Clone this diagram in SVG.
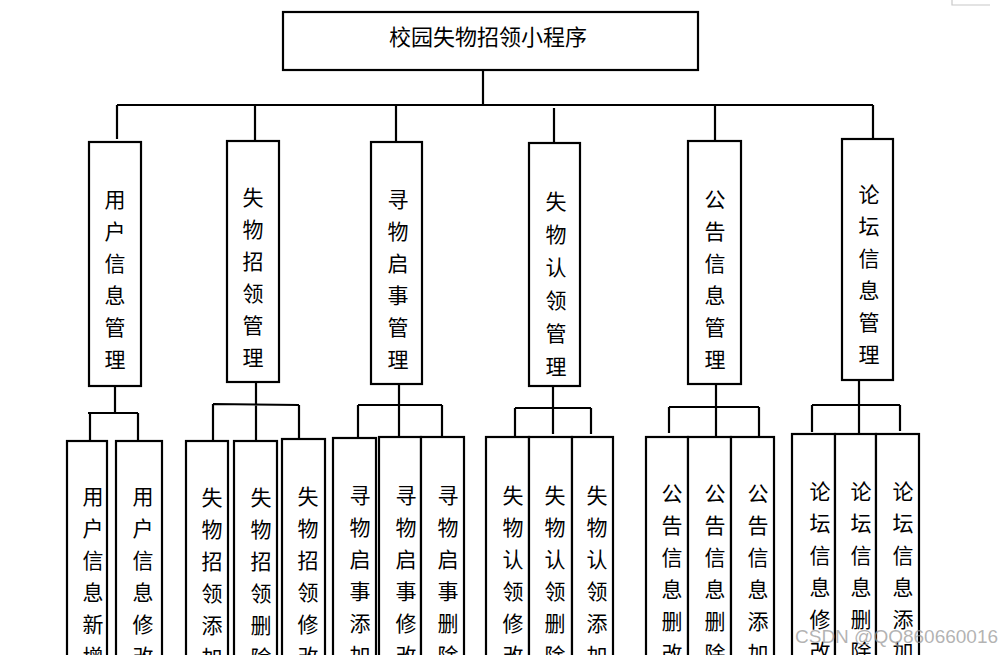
<svg xmlns="http://www.w3.org/2000/svg" width="1004" height="655" viewBox="0 0 1004 655">
<style>
.box{fill:#fff;stroke:#000;stroke-width:2.2}
.ln{fill:none;stroke:#000;stroke-width:2.2}
.t{font-family:"Noto Sans CJK SC","Noto Sans CJK JP",sans-serif;font-size:21px;fill:#000;text-anchor:middle;dominant-baseline:central;transform:translate(0px,-2px)}
.title{font-size:22px}
.wm{font-family:"Liberation Sans",Arial,sans-serif;font-size:19px;fill:#9a9a9a;fill-opacity:0.75}
</style>
<rect width="1004" height="655" fill="#fff"/>
<path d="M952,0 V5 H990" fill="none" stroke="#c8c8c8" stroke-width="1.2"/>

<g id="connectors">
<path class="ln" d="M483,70 V106"/>
<path class="ln" d="M117,105 H873"/>
<path class="ln" d="M117,105 V139 M255,105 V141 M396,105 V142 M554,108 V143 M715,105 V141 M873,105 V139"/>
<path class="ln" d="M115,386 V413 M88,413 H138 M90,413 V441 M138,413 V441"/>
<path class="ln" d="M256,382 V441 M213,404 L299,405 M213,404 V441 M299,405 V439"/>
<path class="ln" d="M399,384 V437 M358,405 H442 M358,405 V438 M442,405 V437"/>
<path class="ln" d="M553,386 V434 M515,408 H591 M515,408 V437 M591,408 V434"/>
<path class="ln" d="M716,384 V437 M669,407 H759 M669,407 V433 M759,407 V437"/>
<path class="ln" d="M859,380 V434 M812,405 H900 M812,405 V432 M900,405 V431"/>
</g>

<g id="root">
<rect class="box" x="283" y="12" width="415" height="58"/>
<text class="t title" x="488" y="37">校园失物招领小程序</text>
</g>

<g id="n-user">
<rect class="box" x="89" y="142" width="52" height="244"/>
<text class="t"><tspan x="115" y="200">用</tspan><tspan x="115" y="232">户</tspan><tspan x="115" y="264">信</tspan><tspan x="115" y="296">息</tspan><tspan x="115" y="328">管</tspan><tspan x="115" y="360">理</tspan></text>
</g>
<g id="n-lost">
<rect class="box" x="227" y="141" width="52" height="241"/>
<text class="t"><tspan x="253" y="198">失</tspan><tspan x="253" y="230">物</tspan><tspan x="253" y="262">招</tspan><tspan x="253" y="294">领</tspan><tspan x="253" y="326">管</tspan><tspan x="253" y="358">理</tspan></text>
</g>
<g id="n-seek">
<rect class="box" x="371" y="142" width="51" height="242"/>
<text class="t"><tspan x="398" y="200">寻</tspan><tspan x="398" y="232">物</tspan><tspan x="398" y="264">启</tspan><tspan x="398" y="296">事</tspan><tspan x="398" y="328">管</tspan><tspan x="398" y="360">理</tspan></text>
</g>
<g id="n-claim">
<rect class="box" x="529" y="143" width="51" height="243"/>
<text class="t"><tspan x="556" y="202">失</tspan><tspan x="556" y="235">物</tspan><tspan x="556" y="268">认</tspan><tspan x="556" y="301">领</tspan><tspan x="556" y="334">管</tspan><tspan x="556" y="367">理</tspan></text>
</g>
<g id="n-notice">
<rect class="box" x="688" y="141" width="53" height="243"/>
<text class="t"><tspan x="715" y="200">公</tspan><tspan x="715" y="232">告</tspan><tspan x="715" y="264">信</tspan><tspan x="715" y="296">息</tspan><tspan x="715" y="328">管</tspan><tspan x="715" y="360">理</tspan></text>
</g>
<g id="n-forum">
<rect class="box" x="842" y="139" width="51" height="241"/>
<text class="t"><tspan x="869" y="195">论</tspan><tspan x="869" y="227">坛</tspan><tspan x="869" y="259">信</tspan><tspan x="869" y="291">息</tspan><tspan x="869" y="323">管</tspan><tspan x="869" y="355">理</tspan></text>
</g>

<g id="l-user-add">
<rect class="box" x="67" y="441" width="40" height="230"/>
<text class="t"><tspan x="93" y="497">用</tspan><tspan x="93" y="529">户</tspan><tspan x="93" y="561">信</tspan><tspan x="93" y="593">息</tspan><tspan x="93" y="625">新</tspan><tspan x="93" y="657">增</tspan></text>
</g>
<g id="l-user-edit">
<rect class="box" x="116" y="441" width="46" height="230"/>
<text class="t"><tspan x="143" y="497">用</tspan><tspan x="143" y="529">户</tspan><tspan x="143" y="561">信</tspan><tspan x="143" y="593">息</tspan><tspan x="143" y="625">修</tspan><tspan x="143" y="657">改</tspan></text>
</g>
<g id="l-lost-add">
<rect class="box" x="186" y="441" width="42" height="230"/>
<text class="t"><tspan x="212" y="498">失</tspan><tspan x="212" y="530">物</tspan><tspan x="212" y="562">招</tspan><tspan x="212" y="594">领</tspan><tspan x="212" y="626">添</tspan><tspan x="212" y="658">加</tspan></text>
</g>
<g id="l-lost-del">
<rect class="box" x="234" y="441" width="43" height="230"/>
<text class="t"><tspan x="261" y="498">失</tspan><tspan x="261" y="530">物</tspan><tspan x="261" y="562">招</tspan><tspan x="261" y="594">领</tspan><tspan x="261" y="626">删</tspan><tspan x="261" y="658">除</tspan></text>
</g>
<g id="l-lost-edit">
<rect class="box" x="282" y="439" width="43" height="232"/>
<text class="t"><tspan x="308" y="497">失</tspan><tspan x="308" y="529">物</tspan><tspan x="308" y="561">招</tspan><tspan x="308" y="593">领</tspan><tspan x="308" y="625">修</tspan><tspan x="308" y="657">改</tspan></text>
</g>
<g id="l-seek-add">
<rect class="box" x="333" y="438" width="43" height="233"/>
<text class="t"><tspan x="360" y="496">寻</tspan><tspan x="360" y="528">物</tspan><tspan x="360" y="560">启</tspan><tspan x="360" y="592">事</tspan><tspan x="360" y="624">添</tspan><tspan x="360" y="656">加</tspan></text>
</g>
<g id="l-seek-edit">
<rect class="box" x="379" y="437" width="42" height="234"/>
<text class="t"><tspan x="406" y="496">寻</tspan><tspan x="406" y="528">物</tspan><tspan x="406" y="560">启</tspan><tspan x="406" y="592">事</tspan><tspan x="406" y="624">修</tspan><tspan x="406" y="656">改</tspan></text>
</g>
<g id="l-seek-del">
<rect class="box" x="421" y="437" width="43" height="234"/>
<text class="t"><tspan x="448" y="496">寻</tspan><tspan x="448" y="528">物</tspan><tspan x="448" y="560">启</tspan><tspan x="448" y="592">事</tspan><tspan x="448" y="624">删</tspan><tspan x="448" y="656">除</tspan></text>
</g>
<g id="l-claim-edit">
<rect class="box" x="486" y="437" width="43" height="234"/>
<text class="t"><tspan x="513" y="496">失</tspan><tspan x="513" y="528">物</tspan><tspan x="513" y="560">认</tspan><tspan x="513" y="592">领</tspan><tspan x="513" y="624">修</tspan><tspan x="513" y="656">改</tspan></text>
</g>
<g id="l-claim-del">
<rect class="box" x="529" y="437" width="43" height="234"/>
<text class="t"><tspan x="555" y="496">失</tspan><tspan x="555" y="528">物</tspan><tspan x="555" y="560">认</tspan><tspan x="555" y="592">领</tspan><tspan x="555" y="624">删</tspan><tspan x="555" y="656">除</tspan></text>
</g>
<g id="l-claim-add">
<rect class="box" x="572" y="437" width="41" height="234"/>
<text class="t"><tspan x="597" y="496">失</tspan><tspan x="597" y="528">物</tspan><tspan x="597" y="560">认</tspan><tspan x="597" y="592">领</tspan><tspan x="597" y="624">添</tspan><tspan x="597" y="656">加</tspan></text>
</g>
<g id="l-notice-editdel">
<rect class="box" x="646" y="437" width="42" height="234"/>
<text class="t"><tspan x="672" y="494">公</tspan><tspan x="672" y="526">告</tspan><tspan x="672" y="558">信</tspan><tspan x="672" y="590">息</tspan><tspan x="672" y="622">删</tspan><tspan x="672" y="654">改</tspan></text>
</g>
<g id="l-notice-del">
<rect class="box" x="688" y="437" width="43" height="234"/>
<text class="t"><tspan x="715" y="494">公</tspan><tspan x="715" y="526">告</tspan><tspan x="715" y="558">信</tspan><tspan x="715" y="590">息</tspan><tspan x="715" y="622">删</tspan><tspan x="715" y="654">除</tspan></text>
</g>
<g id="l-notice-add">
<rect class="box" x="731" y="437" width="43" height="234"/>
<text class="t"><tspan x="758" y="494">公</tspan><tspan x="758" y="526">告</tspan><tspan x="758" y="558">信</tspan><tspan x="758" y="590">息</tspan><tspan x="758" y="622">添</tspan><tspan x="758" y="654">加</tspan></text>
</g>
<g id="l-forum-edit">
<rect class="box" x="792" y="434" width="43" height="237"/>
<text class="t"><tspan x="820" y="492">论</tspan><tspan x="820" y="524">坛</tspan><tspan x="820" y="556">信</tspan><tspan x="820" y="588">息</tspan><tspan x="820" y="620">修</tspan><tspan x="820" y="652">改</tspan></text>
</g>
<g id="l-forum-del">
<rect class="box" x="835" y="434" width="41" height="237"/>
<text class="t"><tspan x="861" y="492">论</tspan><tspan x="861" y="524">坛</tspan><tspan x="861" y="556">信</tspan><tspan x="861" y="588">息</tspan><tspan x="861" y="620">删</tspan><tspan x="861" y="652">除</tspan></text>
</g>
<g id="l-forum-add">
<rect class="box" x="876" y="434" width="43" height="237"/>
<text class="t"><tspan x="903" y="492">论</tspan><tspan x="903" y="524">坛</tspan><tspan x="903" y="556">信</tspan><tspan x="903" y="588">息</tspan><tspan x="903" y="620">添</tspan><tspan x="903" y="652">加</tspan></text>
</g>

<text class="wm" x="795" y="643">CSDN @QQ860660016</text>
</svg>
